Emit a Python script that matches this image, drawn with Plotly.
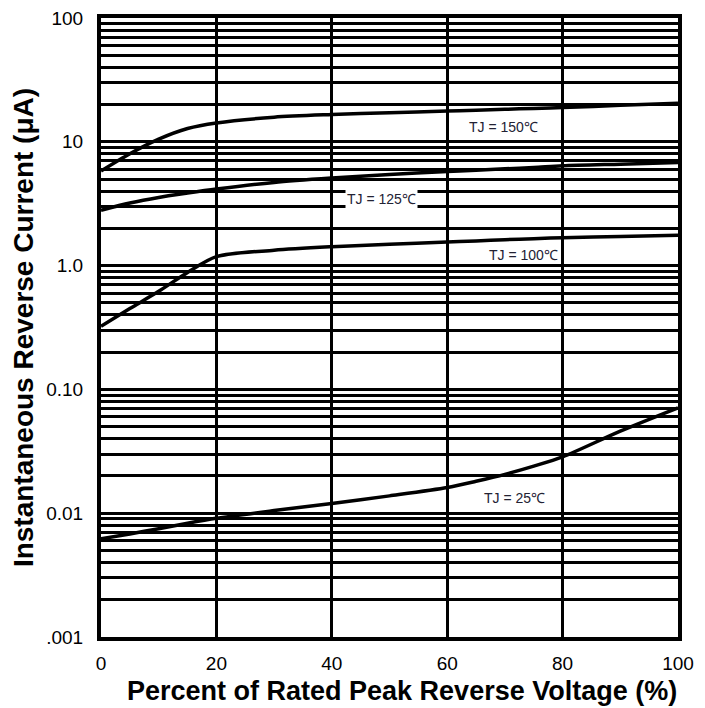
import math
import plotly.graph_objects as go

x_pct = [0, 5, 10, 15, 20, 30, 40, 50, 60, 65, 70, 75, 80, 90, 100]
i_150 = [5.8, 8.0, 10.5, 12.8, 14.2, 15.8, 16.6, 17.2, 17.7, 18.0, 18.3, 18.6, 18.9, 19.7, 20.5]
i_125 = [2.8, 3.2, 3.55, 3.85, 4.15, 4.7, 5.1, 5.45, 5.75, 5.9, 6.05, 6.2, 6.4, 6.6, 6.8]
i_100 = [0.323, 0.45, 0.62, 0.88, 1.18, 1.33, 1.42, 1.49, 1.55, 1.58, 1.62, 1.65, 1.68, 1.72, 1.76]
i_25 = [0.0062, 0.0068, 0.0075, 0.0083, 0.0091, 0.0105, 0.012, 0.0138, 0.0161, 0.0181, 0.0206, 0.024, 0.0285, 0.046, 0.071]

series = [("150", i_150), ("125", i_125), ("100", i_100), ("25", i_25)]

label_text = ["TJ = 150℃", "TJ = 125℃", "TJ = 100℃", "TJ = 25℃"]
label_x = [69.8, 48.6, 73.2, 71.6]
label_y = [13.1, 3.44, 1.22, 0.0133]

y_tickvals = [0.001, 0.01, 0.1, 1, 10, 100]
y_ticktext = [".001", "0.01", "0.10", "1.0", "10", "100"]
x_tickvals = [0, 20, 40, 60, 80, 100]

x_title = "<b>Percent of Rated Peak Reverse Voltage (%)</b>"
y_title = "<b>Instantaneous Reverse Current (μA)</b>"

fig = go.Figure()
for name, vals in series:
    fig.add_trace(go.Scatter(x=x_pct, y=vals, mode="lines",
                             line=dict(color="black", width=3.5, shape="spline", smoothing=0.8),
                             showlegend=False, hoverinfo="skip"))

for i, t in enumerate(label_text):
    fig.add_annotation(x=label_x[i], y=math.log10(label_y[i]), xref="x", yref="y", text=t, showarrow=False,
                       font=dict(family="Liberation Sans, Arial", size=14, color="#222233"),
                       bgcolor="white" if i == 1 else "rgba(0,0,0,0)", borderpad=1)

fig.add_annotation(x=0.522, y=-0.087, xref="paper", yref="paper", text=x_title, showarrow=False,
                   xanchor="center", yanchor="middle",
                   font=dict(family="Liberation Sans, Arial", size=27, color="black"))

fig.update_layout(
    width=697, height=700,
    margin=dict(l=93, r=27, t=10, b=71),
    plot_bgcolor="white", paper_bgcolor="white",
    font=dict(family="Liberation Sans, Arial", color="black"),
    xaxis=dict(range=[0, 100], tickvals=x_tickvals, showgrid=True, gridcolor="black", gridwidth=3,
               showline=True, linecolor="black", linewidth=4, mirror=True, zeroline=False,
               ticks="", tickfont=dict(size=19), ticklabelstandoff=6, automargin=False,
               ticklabeloverflow="allow"),
    yaxis=dict(type="log", range=[-3, 2], tickvals=y_tickvals, ticktext=y_ticktext,
               showgrid=True, gridcolor="black", gridwidth=3,
               minor=dict(dtick="D1", showgrid=True, gridcolor="black", gridwidth=3, ticks=""),
               showline=True, linecolor="black", linewidth=4, mirror=True, zeroline=False,
               ticks="", tickfont=dict(size=19), ticklabelstandoff=10, automargin=False,
               ticklabeloverflow="allow",
               title=dict(text=y_title, font=dict(size=28), standoff=6)),
)

fig.write_html("out.html")
